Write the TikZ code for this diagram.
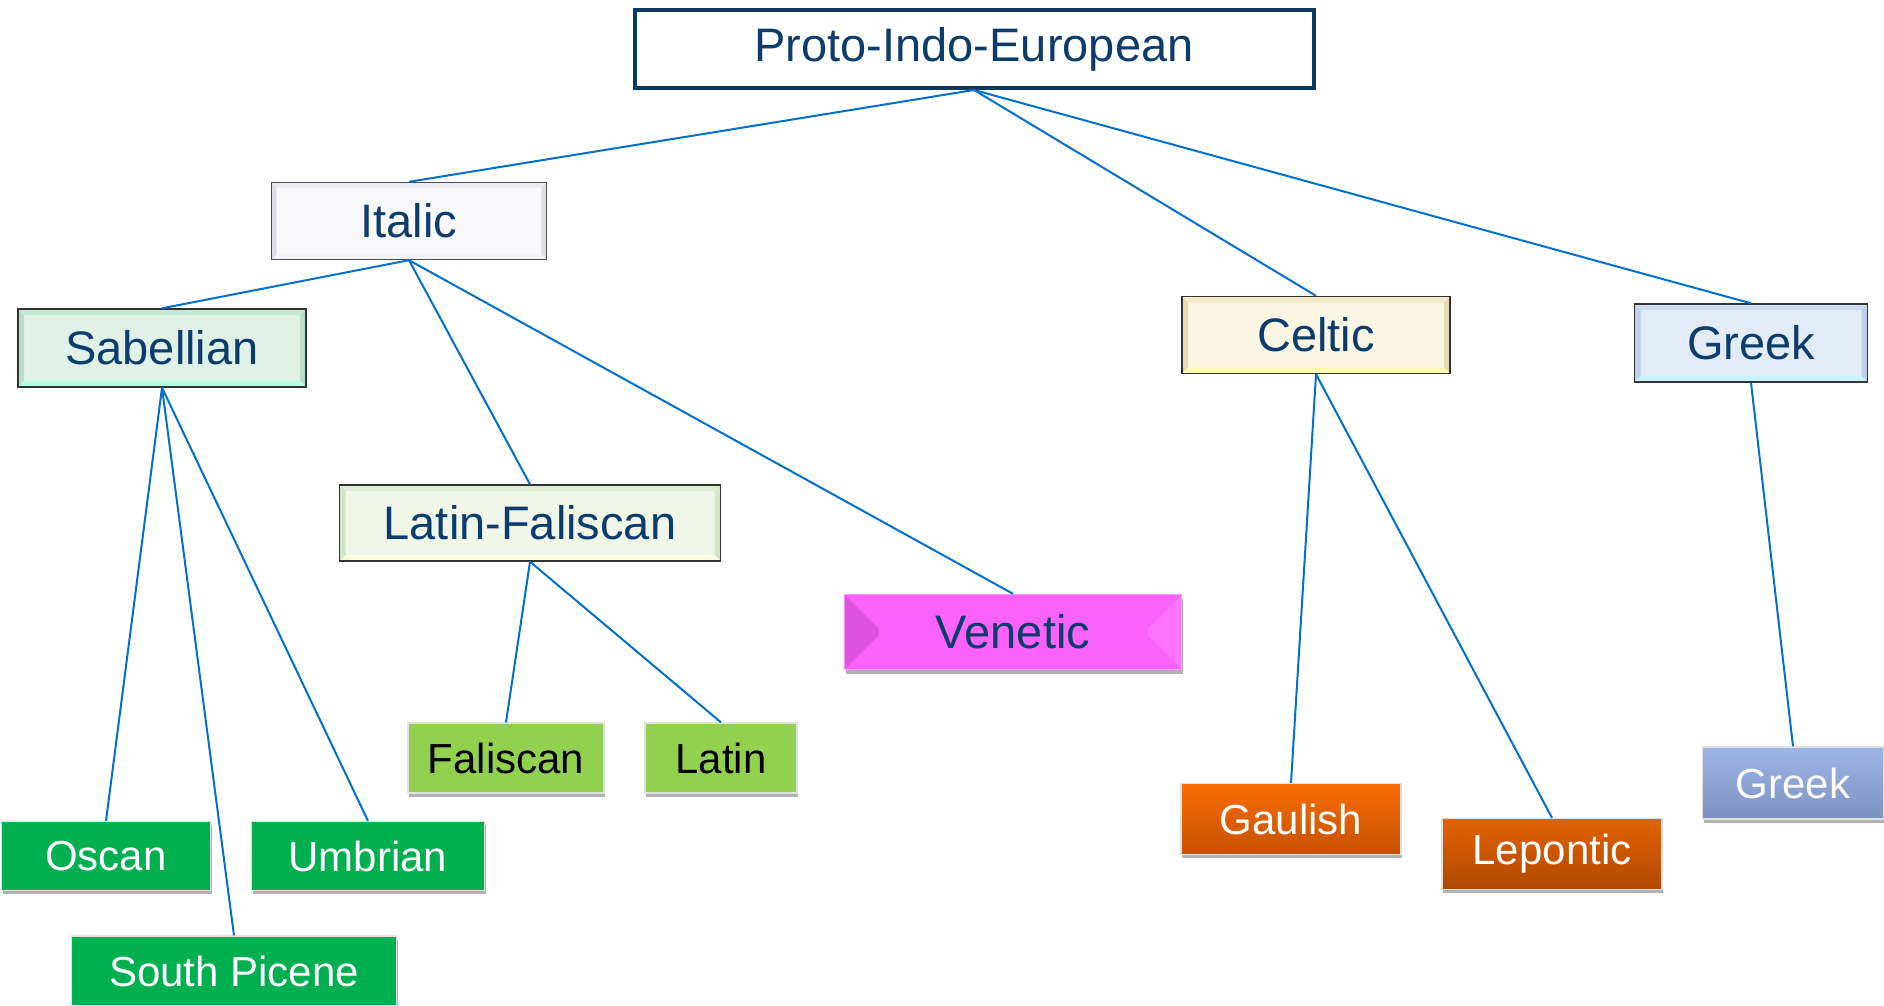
\documentclass[tikz,border=0pt]{standalone}
\usepackage{fontspec}
\setmainfont{Liberation Sans}
\usetikzlibrary{shadows}

\definecolor{navy}{RGB}{12,60,108}
\definecolor{pieline}{RGB}{14,56,100}
\definecolor{link}{RGB}{0,112,204}
\definecolor{leafgreen}{RGB}{0,176,80}
\definecolor{limegreen}{RGB}{146,208,80}
\definecolor{italicfill}{RGB}{248,248,250}
\definecolor{italicside}{RGB}{222,223,230}
\definecolor{italictop}{RGB}{234,235,241}
\definecolor{italicbot}{RGB}{244,244,248}
\definecolor{sabfill}{RGB}{224,242,232}
\definecolor{sabside}{RGB}{186,222,202}
\definecolor{sabtop}{RGB}{200,232,214}
\definecolor{sabbot}{RGB}{180,255,228}
\definecolor{latfalfill}{RGB}{239,246,232}
\definecolor{latfalside}{RGB}{212,228,198}
\definecolor{latfaltop}{RGB}{224,237,212}
\definecolor{latfalbot}{RGB}{250,253,222}
\definecolor{venfill}{RGB}{250,98,250}
\definecolor{venleft}{RGB}{222,82,222}
\definecolor{venright}{RGB}{255,116,255}
\definecolor{ventop}{RGB}{253,140,253}
\definecolor{venline}{RGB}{255,150,255}
\definecolor{celtfill}{RGB}{251,245,227}
\definecolor{celtside}{RGB}{234,218,178}
\definecolor{celttop}{RGB}{245,232,200}
\definecolor{celtbot}{RGB}{255,250,175}
\definecolor{greekfill}{RGB}{226,236,247}
\definecolor{greekside}{RGB}{188,208,234}
\definecolor{greektop}{RGB}{204,221,242}
\definecolor{greekbot}{RGB}{200,245,255}
\definecolor{gaultop}{RGB}{250,108,5}
\definecolor{gaulbot}{RGB}{196,82,0}
\definecolor{leptop}{RGB}{226,98,0}
\definecolor{lepbot}{RGB}{176,72,0}
\definecolor{gleaftop}{RGB}{158,182,230}
\definecolor{gleafbot}{RGB}{124,145,192}

\newcommand{\bevelpaint}[5]{%
  \fill[#2] (path picture bounding box.north west) -- ([shift={(#1,-#1)}]path picture bounding box.north west)
    -- ([shift={(#1,#1)}]path picture bounding box.south west) -- (path picture bounding box.south west) -- cycle;
  \fill[#3] (path picture bounding box.north east) -- ([shift={(-#1,-#1)}]path picture bounding box.north east)
    -- ([shift={(-#1,#1)}]path picture bounding box.south east) -- (path picture bounding box.south east) -- cycle;
  \fill[#4] (path picture bounding box.north west) -- (path picture bounding box.north east)
    -- ([shift={(-#1,-#1)}]path picture bounding box.north east) -- ([shift={(#1,-#1)}]path picture bounding box.north west) -- cycle;
  \fill[#5] (path picture bounding box.south west) -- (path picture bounding box.south east)
    -- ([shift={(-#1,#1)}]path picture bounding box.south east) -- ([shift={(#1,#1)}]path picture bounding box.south west) -- cycle;
}

\tikzset{
  bevel/.style n args={5}{path picture={\bevelpaint{#1}{#2}{#3}{#4}{#5}}},
  branch/.style={rectangle, line width=0.7pt, text=navy, inner sep=0pt,
    font=\fontsize{23.5}{28}\selectfont},
  leaf/.style={rectangle, draw=black!12, line width=0.6pt, text=white, inner sep=0pt,
    font=\fontsize{21}{25}\selectfont,
    drop shadow={shadow xshift=0.6pt, shadow yshift=-1.8pt, fill=black, opacity=0.3}},
  link/.style={draw=link, line width=1pt}
}

\begin{document}
\begin{tikzpicture}[x=0.5pt, y=-0.5pt]
  \useasboundingbox (0,0) rectangle (1884,1006);

  \node [branch, draw=pieline, line width=2pt, fill=white,
    minimum width=339.5pt, minimum height=39pt] (pie) at (974,49) {Proto-Indo-European};

  \node [branch, draw=black!70, fill=italicfill, bevel={2.6pt}{italicside}{italicside}{italictop}{italicbot},
    minimum width=137.5pt, minimum height=38.5pt] (italic) at (409,221) {Italic};
  \node [branch, draw=black!80, fill=sabfill, bevel={3pt}{sabside}{sabside}{sabtop}{sabbot},
    minimum width=144pt, minimum height=39pt] (sab) at (162,348) {Sabellian};
  \node [branch, draw=black!80, fill=latfalfill, bevel={3pt}{latfalside}{latfalside}{latfaltop}{latfalbot},
    minimum width=190.5pt, minimum height=38pt] (latfal) at (530,523) {Latin-Faliscan};
  \node [branch, draw=venline, fill=venfill, bevel={17pt}{venleft}{venright}{venfill}{venfill},
    drop shadow={shadow xshift=0.8pt, shadow yshift=-2pt, fill=black, opacity=0.3},
    minimum width=168.5pt, minimum height=37.5pt] (venetic) at (1013,632) {Venetic};
  \node [branch, draw=black!80, fill=celtfill, bevel={3pt}{celtside}{celtside}{celttop}{celtbot},
    minimum width=134pt, minimum height=38.5pt] (celtic) at (1316,335) {Celtic};
  \node [branch, draw=black!80, fill=greekfill, bevel={3pt}{greekside}{greekside}{greektop}{greekbot},
    minimum width=116.5pt, minimum height=39pt] (greek) at (1751,343) {Greek};

  \node [leaf, fill=limegreen, text=black, minimum width=98pt, minimum height=35pt] (falis) at (506,758) {Faliscan};
  \node [leaf, fill=limegreen, text=black, minimum width=76pt, minimum height=35pt] (latin) at (721,758) {Latin};
  \node [leaf, fill=leafgreen, minimum width=104.5pt, minimum height=34.5pt] (oscan) at (106,856) {Oscan};
  \node [leaf, fill=leafgreen, minimum width=116.5pt, minimum height=34.5pt] (umbrian) at (368,856) {Umbrian};
  \node [leaf, fill=leafgreen, minimum width=162.5pt, minimum height=35pt] (spicene) at (234,971) {South Picene};
  \node [leaf, top color=gaultop, bottom color=gaulbot,
    minimum width=110pt, minimum height=35.5pt] (gaulish) at (1291,819) {Gaulish};
  \node [leaf, top color=leptop, bottom color=lepbot,
    minimum width=110pt, minimum height=35.5pt] (lepontic) at (1552,854) {Lepontic};
  \node [leaf, top color=gleaftop, bottom color=gleafbot,
    minimum width=90.5pt, minimum height=36pt] (greekleaf) at (1793,783) {Greek};

  \draw [link] (pie.south) -- (italic.north);
  \draw [link] (pie.south) -- (celtic.north);
  \draw [link] (pie.south) -- (greek.north);
  \draw [link] (italic.south) -- (sab.north);
  \draw [link] (italic.south) -- (latfal.north);
  \draw [link] (italic.south) -- (venetic.north);
  \draw [link] (sab.south) -- (oscan.north);
  \draw [link] (sab.south) -- (spicene.north);
  \draw [link] (sab.south) -- (umbrian.north);
  \draw [link] (latfal.south) -- (falis.north);
  \draw [link] (latfal.south) -- (latin.north);
  \draw [link] (celtic.south) -- (gaulish.north);
  \draw [link] (celtic.south) -- (lepontic.north);
  \draw [link] (greek.south) -- (greekleaf.north);
\end{tikzpicture}
\end{document}
